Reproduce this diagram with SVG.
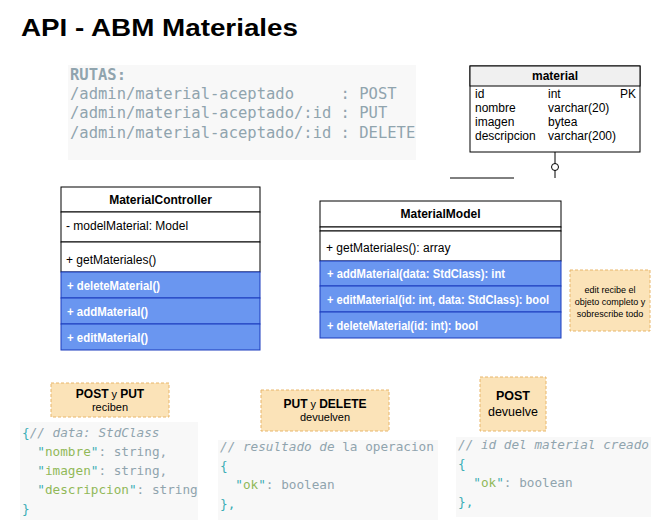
<svg xmlns="http://www.w3.org/2000/svg" width="668" height="522" viewBox="0 0 668 522">
<style>
.sans{font-family:"Liberation Sans",Arial,Helvetica,sans-serif;}
.mono{font-family:"DejaVu Sans Mono","Liberation Mono",monospace;}
.box{fill:#ffffff;stroke:#000000;stroke-width:1;}
.blue{fill:#6a96f0;stroke:#1a3bbd;stroke-width:1;}
.note{fill:#fbe3b8;stroke:#e8b66a;stroke-width:1;stroke-dasharray:3 2;}
.code{fill:#f8f8f8;}
.t12{font-size:12px;fill:#000;}
.tb{font-weight:bold;}
.tw{fill:#ffffff;font-weight:bold;font-size:12px;}
.g{fill:#90a4ae;}
.c{fill:#90a4ae;font-style:italic;}
.p{fill:#39adb5;}
.s{fill:#91b859;}
</style>
<rect width="668" height="522" fill="#ffffff"/>
<text class="sans tb" x="21" y="36" font-size="24" textLength="277" lengthAdjust="spacingAndGlyphs">API - ABM Materiales</text>

<g id="rutas">
<rect class="code" x="68" y="65" width="348" height="95"/>
<text class="mono g" font-size="15.5" x="70" y="80" font-weight="bold">RUTAS:</text>
<text class="mono g" font-size="15.5" x="70" y="99" xml:space="preserve">/admin/material-aceptado     : POST</text>
<text class="mono g" font-size="15.5" x="70" y="118">/admin/material-aceptado/:id : PUT</text>
<text class="mono g" font-size="15.5" x="70" y="138">/admin/material-aceptado/:id : DELETE</text>
</g>

<g id="material">
<rect x="470" y="66" width="170" height="86" fill="#ffffff" stroke="#000"/>
<rect x="470" y="66" width="170" height="20" fill="#f0f0f0" stroke="#000"/>
<text class="sans t12 tb" x="555" y="80" text-anchor="middle">material</text>
<g class="sans t12">
<text x="475" y="98">id</text><text x="548" y="98">int</text><text x="636" y="98" text-anchor="end">PK</text>
<text x="475" y="112">nombre</text><text x="548" y="112">varchar(20)</text>
<text x="475" y="126">imagen</text><text x="548" y="126">bytea</text>
<text x="475" y="140">descripcion</text><text x="548" y="140">varchar(200)</text>
</g>
</g>

<g id="connectors">
<line x1="555" y1="152" x2="555" y2="178" stroke="#000" stroke-width="1"/>
<circle cx="555" cy="167" r="3.5" fill="#ffffff" stroke="#000" stroke-width="1"/>
<line x1="450" y1="178" x2="514" y2="178" stroke="#000" stroke-width="1"/>
</g>

<g id="MaterialController">
<rect class="box" x="61" y="187" width="199" height="25"/>
<text class="sans t12 tb" x="160.5" y="204" text-anchor="middle">MaterialController</text>
<rect class="box" x="61" y="212" width="199" height="30"/>
<text class="sans t12" x="66" y="230">- modelMaterial: Model</text>
<rect class="box" x="61" y="242" width="199" height="30"/>
<text class="sans t12" x="66" y="264">+ getMateriales()</text>
<rect class="blue" x="61" y="272" width="199" height="26"/>
<text class="sans tw" x="67" y="290" textLength="93" lengthAdjust="spacingAndGlyphs">+ deleteMaterial()</text>
<rect class="blue" x="61" y="298" width="199" height="26"/>
<text class="sans tw" x="67" y="316" textLength="81" lengthAdjust="spacingAndGlyphs">+ addMaterial()</text>
<rect class="blue" x="61" y="324" width="199" height="26"/>
<text class="sans tw" x="67" y="342" textLength="81" lengthAdjust="spacingAndGlyphs">+ editMaterial()</text>
</g>

<g id="MaterialModel">
<rect class="box" x="320" y="201" width="241" height="26"/>
<text class="sans t12 tb" x="440.5" y="218" text-anchor="middle">MaterialModel</text>
<rect class="box" x="320" y="227" width="241" height="4"/>
<rect class="box" x="320" y="231" width="241" height="30"/>
<text class="sans t12" x="326" y="252">+ getMateriales(): array</text>
<rect class="blue" x="320" y="261" width="241" height="25"/>
<text class="sans tw" x="327" y="278" textLength="178" lengthAdjust="spacingAndGlyphs">+ addMaterial(data: StdClass): int</text>
<rect class="blue" x="320" y="286" width="241" height="26"/>
<text class="sans tw" x="327" y="304" textLength="222" lengthAdjust="spacingAndGlyphs">+ editMaterial(id: int, data: StdClass): bool</text>
<rect class="blue" x="320" y="312" width="241" height="26"/>
<text class="sans tw" x="327" y="330" textLength="151" lengthAdjust="spacingAndGlyphs">+ deleteMaterial(id: int): bool</text>
</g>

<g id="note-edit">
<rect class="note" x="570" y="270" width="80" height="61"/>
<g class="sans" font-size="9" fill="#000" text-anchor="middle">
<text x="610" y="293">edit recibe el</text>
<text x="610" y="305">objeto completo y</text>
<text x="610" y="317">sobrescribe todo</text>
</g>
</g>

<g id="note-post-put">
<rect class="note" x="51" y="383" width="118" height="34"/>
<text class="sans" x="110" y="398" text-anchor="middle" font-size="12"><tspan font-weight="bold">POST</tspan><tspan font-size="11"> y </tspan><tspan font-weight="bold">PUT</tspan></text>
<text class="sans" x="110" y="411" text-anchor="middle" font-size="11">reciben</text>
</g>

<g id="code-recibe">
<rect class="code" x="20" y="422" width="178" height="98"/>
<g class="mono" font-size="12.7">
<text x="22" y="437"><tspan class="p">{</tspan><tspan class="c">// data: StdClass</tspan></text>
<text x="37.3" y="456"><tspan class="p">"</tspan><tspan class="s">nombre</tspan><tspan class="p">"</tspan><tspan class="g">: string,</tspan></text>
<text x="37.3" y="475"><tspan class="p">"</tspan><tspan class="s">imagen</tspan><tspan class="p">"</tspan><tspan class="g">: string,</tspan></text>
<text x="37.3" y="494"><tspan class="p">"</tspan><tspan class="s">descripcion</tspan><tspan class="p">"</tspan><tspan class="g">: string</tspan></text>
<text x="22" y="513" class="p">}</text>
</g>
</g>

<g id="note-put-delete">
<rect class="note" x="261" y="390" width="128" height="41"/>
<text class="sans" x="325" y="408" text-anchor="middle" font-size="12"><tspan font-weight="bold">PUT</tspan><tspan font-size="11"> y </tspan><tspan font-weight="bold">DELETE</tspan></text>
<text class="sans" x="325" y="421" text-anchor="middle" font-size="11">devuelven</text>
</g>

<g id="code-put-delete">
<rect class="code" x="218" y="440" width="220" height="80"/>
<g class="mono" font-size="12.7">
<text x="220" y="451"><tspan class="c">// resultado de</tspan><tspan class="g"> la operacion</tspan></text>
<text x="220" y="470" class="p">{</text>
<text x="235.3" y="489"><tspan class="p">"</tspan><tspan class="s">ok</tspan><tspan class="p">"</tspan><tspan class="g">: boolean</tspan></text>
<text x="220" y="508" class="p">},</text>
</g>
</g>

<g id="note-post">
<rect class="note" x="480" y="377" width="66" height="54"/>
<text class="sans tb" x="513" y="400" text-anchor="middle" font-size="12.5">POST</text>
<text class="sans" x="513" y="416" text-anchor="middle" font-size="12.5">devuelve</text>
</g>

<g id="code-post">
<rect class="code" x="456" y="437" width="195" height="80"/>
<g class="mono" font-size="12.7">
<text x="458" y="449" class="c">// id del material creado</text>
<text x="458" y="468" class="p">{</text>
<text x="473.3" y="487"><tspan class="p">"</tspan><tspan class="s">ok</tspan><tspan class="p">"</tspan><tspan class="g">: boolean</tspan></text>
<text x="458" y="506" class="p">},</text>
</g>
</g>
</svg>
